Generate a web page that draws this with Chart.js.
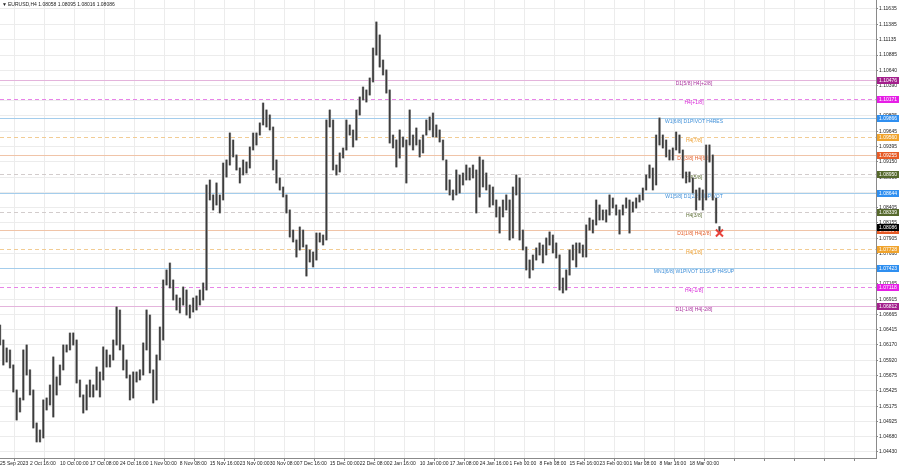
<!DOCTYPE html>
<html>
<head>
<meta charset="UTF-8" />
<script src="https://cdn.jsdelivr.net/npm/chart.js"></script>
<title>EURUSD H4</title>
<style>
  html, body { margin: 0; padding: 0; background: #fff; }
  #caja { width: 900px; height: 468px; }
</style>
</head>
<body>
<div id="caja"><canvas id="grafico" width="900" height="468"></canvas></div>
<script>
// precios, una columna cada ~3.3 px (maximos y minimos)
const highs = [
  1.06495,1.06251,1.06121,1.06089,1.05845,1.05438,1.05308,1.06089,1.06170,1.05764,
  1.05438,1.04901,1.04788,1.05276,1.05308,1.05520,1.05975,1.05650,1.05845,1.06170,
  1.06170,1.06365,1.06365,1.06251,1.05601,1.05357,1.05520,1.05601,1.05520,1.05812,
  1.05731,1.06138,1.06089,1.06007,1.06251,1.06788,1.06739,1.06170,1.05926,1.05682,
  1.05731,1.05731,1.05764,1.06203,1.06739,1.06658,1.05764,1.06007,1.06463,1.07227,
  1.07390,1.07504,1.07227,1.06983,1.06934,1.07113,1.07064,1.06820,1.06934,1.06967,
  1.07064,1.07178,1.08772,1.08854,1.08610,1.08805,1.08610,1.09130,1.09179,1.09618,
  1.09504,1.09260,1.09049,1.09179,1.09146,1.09390,1.09618,1.09618,1.09781,1.10106,
  1.09992,1.09911,1.09716,1.09179,1.08886,1.08740,1.08610,1.08366,1.08040,1.07878,
  1.08089,1.08040,1.07796,1.07715,1.07683,1.07991,1.07991,1.07959,1.09829,1.09992,
  1.09829,1.09097,1.09293,1.09374,1.09829,1.09748,1.09667,1.09992,1.10203,1.10366,
  1.10317,1.10512,1.11000,1.11423,1.11212,1.10805,1.10643,1.10317,1.09585,1.09504,
  1.09667,1.09553,1.09504,1.09992,1.09585,1.09699,1.09504,1.09585,1.09829,1.09878,
  1.09943,1.09748,1.09667,1.09504,1.09179,1.08854,1.08691,1.09016,1.08935,1.08967,
  1.09097,1.09049,1.09097,1.09016,1.09228,1.09179,1.08967,1.08772,1.08740,1.08528,
  1.08414,1.08528,1.08610,1.08528,1.08740,1.08935,1.08886,1.08040,1.07764,1.07552,
  1.07634,1.07748,1.07829,1.07796,1.07910,1.08008,1.07959,1.07829,1.07634,1.07260,
  1.07390,1.07715,1.07796,1.07829,1.07829,1.07796,1.08122,1.08235,1.08203,1.08528,
  1.08447,1.08366,1.08366,1.08610,1.08561,1.08447,1.08366,1.08447,1.08561,1.08528,
  1.08496,1.08561,1.08610,1.08723,1.08935,1.09097,1.09049,1.09585,1.09862,1.09585,
  1.09504,1.09341,1.09374,1.09634,1.09585,1.09341,1.08984,1.08984,1.08886,1.08691,
  1.08723,1.08691,1.09423,1.09423,1.09260,1.08561,1.08095
];
const lows = [
  1.06170,1.05845,1.05893,1.05796,1.05406,1.04950,1.05080,1.05276,1.05682,1.05357,
  1.04820,1.04593,1.04593,1.04658,1.05113,1.05194,1.04999,1.05357,1.05520,1.05764,
  1.06056,1.06089,1.06170,1.05552,1.05324,1.05064,1.05113,1.05324,1.05324,1.05438,
  1.05324,1.05601,1.05812,1.05812,1.05926,1.06170,1.06089,1.05764,1.05633,1.05276,
  1.05308,1.05568,1.05601,1.05682,1.06089,1.05715,1.05227,1.05276,1.05926,1.06251,
  1.07146,1.07097,1.06902,1.06739,1.06690,1.06820,1.06658,1.06609,1.06707,1.06739,
  1.06820,1.06902,1.07064,1.08528,1.08366,1.08447,1.08317,1.08528,1.08902,1.09097,
  1.09228,1.09016,1.08805,1.08935,1.08967,1.09049,1.09341,1.09423,1.09585,1.09748,
  1.09716,1.09667,1.09016,1.08805,1.08691,1.08577,1.08317,1.07926,1.07845,1.07601,
  1.07715,1.07764,1.07292,1.07520,1.07439,1.07552,1.07845,1.07796,1.07878,1.09716,
  1.09016,1.08935,1.08984,1.09211,1.09341,1.09585,1.09390,1.09504,1.09911,1.10155,
  1.10122,1.10236,1.10447,1.10886,1.10691,1.10561,1.10268,1.09455,1.09374,1.09065,
  1.09211,1.09390,1.08805,1.09423,1.09341,1.09423,1.09228,1.09293,1.09585,1.09667,
  1.09553,1.09553,1.09472,1.09179,1.08691,1.08610,1.08528,1.08610,1.08642,1.08772,
  1.08854,1.08854,1.08886,1.08317,1.08577,1.08740,1.08691,1.08414,1.08447,1.08252,
  1.07991,1.08252,1.08366,1.07878,1.07910,1.08610,1.07878,1.07715,1.07390,1.07260,
  1.07390,1.07552,1.07634,1.07504,1.07634,1.07796,1.07666,1.07585,1.07064,1.07016,
  1.07064,1.07308,1.07552,1.07439,1.07666,1.07601,1.07601,1.08040,1.07991,1.08122,
  1.08203,1.08203,1.08170,1.08284,1.08398,1.08284,1.07975,1.08284,1.08398,1.07991,
  1.08333,1.08398,1.08496,1.08528,1.08691,1.08886,1.08691,1.08772,1.09423,1.09374,
  1.09228,1.09179,1.09179,1.09341,1.09293,1.08886,1.08805,1.08821,1.08642,1.08366,
  1.08528,1.08366,1.08528,1.09146,1.08528,1.08154,1.08016
];
// ultima vela: apertura, maximo, minimo, cierre
const ohlc = [1.08058, 1.08095, 1.08016, 1.08086];
const simbolo = 'EURUSD,H4';
// etiquetas de fecha (una cada 9 columnas)
const dateLabels = ['25 Sep 2023','2 Oct 16:00','10 Oct 00:00','17 Oct 08:00','24 Oct 16:00',
  '1 Nov 00:00','8 Nov 08:00','15 Nov 16:00','23 Nov 00:00','30 Nov 08:00','7 Dec 16:00',
  '15 Dec 00:00','22 Dec 08:00','2 Jan 16:00','10 Jan 00:00','17 Jan 08:00','24 Jan 16:00',
  '1 Feb 00:00','8 Feb 08:00','15 Feb 16:00','23 Feb 00:00','1 Mar 08:00','8 Mar 16:00','18 Mar 00:00'];
const yTicks = [1.11635,1.11385,1.11135,1.10885,1.10640,1.10390,1.10145,1.09895,1.09645,1.09395,
  1.09150,1.08900,1.08655,1.08405,1.08155,1.07905,1.07660,1.07410,1.07165,1.06915,
  1.06665,1.06415,1.06170,1.05920,1.05675,1.05425,1.05175,1.04925,1.04680,1.04430];
// niveles murrey
const levelPrices = [1.10476,1.10171,1.09866,1.09560,1.09255,1.08950,1.08644,1.08339,1.08034,1.07728,1.07423,1.07118,1.06812];
const levelNames = ['D1[5/8] H4[+2/8]','H4[+1/8]','W1[6/8] D1PIVOT H4RES','H4[7/8]','D1[3/8] H4[6/8]',
  'H4[5/8]','W1[5/8] D1[2/8] H4PIVOT','H4[3/8]','D1[1/8] H4[2/8]','H4[1/8]',
  'MN1[6/8] W1PIVOT D1SUP H4SUP','H4[-1/8]','D1[-1/8] H4[-2/8]'];
const markerIndex = 216;
const markerPrice = 1.07991;

// estilos de cada nivel
const morado = {line:'#e4b4dc', text:'#a8309c', box:'#a3208c', dash:false};
const magenta = {line:'#e884e8', text:'#d61ed6', box:'#e61ee6', dash:true};
const azul = {line:'#a4cdec', text:'#3f8fd8', box:'#2f8ff0', dash:false};
const naranja = {line:'#f2cc94', text:'#eea032', box:'#f0a32c', dash:true};
const rojo = {line:'#f0c4a8', text:'#e4602c', box:'#e65a26', dash:false};
const oliva = {line:'#d2cccc', text:'#5d6e35', box:'#56692c', dash:true};
const levelStyles = [morado, magenta, azul, naranja, rojo, oliva, azul, oliva, rojo, naranja, azul, magenta, morado];

const N = 264;
const FUENTE = '5px "Liberation Sans", Arial, sans-serif';
const labels = Array.from({length: N}, (_, i) => i);
const velas = highs.map((h, i) => [lows[i], h]);
const marcador = labels.map(i => i === markerIndex ? markerPrice : null);

const nivelesPlugin = {
  id: 'niveles',
  beforeDatasetsDraw(chart) {
    const {ctx, chartArea: a, scales: {y}} = chart;
    ctx.save();
    levelPrices.forEach((p, i) => {
      const st = levelStyles[i];
      const py = Math.round(y.getPixelForValue(p)) + 0.5;
      ctx.strokeStyle = st.line;
      ctx.lineWidth = 1;
      ctx.setLineDash(st.dash ? [4, 3] : []);
      ctx.beginPath();
      ctx.moveTo(a.left, py);
      ctx.lineTo(a.right, py);
      ctx.stroke();
      ctx.fillStyle = st.text;
      ctx.font = FUENTE;
      ctx.textAlign = 'center';
      ctx.textBaseline = 'top';
      ctx.fillText(levelNames[i], 694, py + 1);
    });
    ctx.restore();
  },
  afterDraw(chart) {
    const {ctx, chartArea: a, scales: {y}} = chart;
    ctx.save();
    ctx.font = FUENTE;
    ctx.textBaseline = 'middle';
    ctx.textAlign = 'left';
    const caja = (p, bg) => {
      const py = Math.round(y.getPixelForValue(p));
      ctx.fillStyle = bg;
      ctx.fillRect(a.right + 1, py - 3, 22, 7);
      ctx.fillStyle = '#fff';
      ctx.fillText(p.toFixed(5), a.right + 3, py + 0.5);
    };
    levelPrices.forEach((p, i) => caja(p, levelStyles[i].box));
    caja(ohlc[3], '#000');
    // cabecera
    ctx.fillStyle = '#222';
    ctx.fillText('\u25BC', 2, 5);
    ctx.fillText(simbolo + ' ' + ohlc.map(v => v.toFixed(5)).join(' '), 8, 5);
    ctx.restore();
  }
};

const ctx = document.getElementById('grafico').getContext('2d');
new Chart(ctx, {
  type: 'bar',
  data: {
    labels: labels,
    datasets: [
      {type: 'line', data: marcador, showLine: false, pointStyle: 'crossRot', pointRadius: 5,
       borderColor: '#e8423a', borderWidth: 2, backgroundColor: '#e8423a'},
      {data: velas, backgroundColor: '#3c3c3c', barThickness: 1, grouped: false},
      {data: velas, backgroundColor: '#b4b4b4', barThickness: 2, grouped: false}
    ]
  },
  options: {
    responsive: false,
    animation: false,
    layout: {padding: 0, autoPadding: false},
    plugins: {legend: {display: false}, tooltip: {enabled: false}},
    scales: {
      x: {
        offset: false,
        grid: {color: '#ececec', tickLength: 3, tickColor: '#888'},
        border: {color: '#8a8a8a'},
        ticks: {
          autoSkip: false, maxRotation: 0, align: 'start', padding: 0,
          color: '#222', font: {family: '"Liberation Sans", Arial', size: 5},
          callback: (v, i) => i % 9 === 0 ? (dateLabels[i / 9] || '') : null
        },
        afterFit: s => { s.height = 10; s.paddingLeft = 0; s.paddingRight = 0; }
      },
      y: {
        position: 'right',
        min: 1.04332,
        max: 1.11781,
        afterBuildTicks: s => { s.ticks = yTicks.map(v => ({value: v})); },
        grid: {color: '#ececec', tickLength: 2, tickColor: '#888'},
        border: {color: '#8a8a8a'},
        ticks: {
          padding: 1, color: '#222', font: {family: '"Liberation Sans", Arial', size: 5},
          callback: v => v.toFixed(5)
        },
        afterFit: s => { s.width = 24; s.paddingTop = 0; s.paddingBottom = 0; }
      }
    }
  },
  plugins: [nivelesPlugin]
});
</script>
</body>
</html>
